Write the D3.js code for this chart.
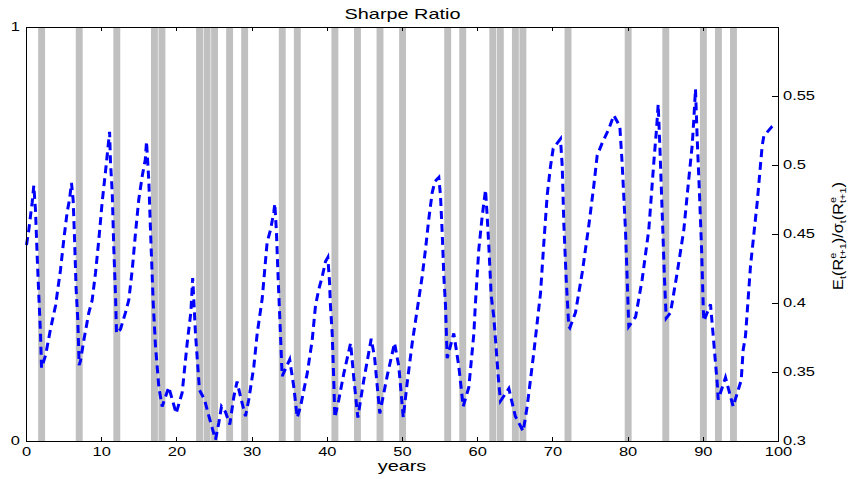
<!DOCTYPE html>
<meta charset="utf-8">
<style>
body { margin: 0; background: #fff; }
svg text { font-family: "Liberation Sans", Arial, Helvetica, sans-serif; fill: #000; }
.axis path, .axis line { stroke: #000; stroke-width: 1; shape-rendering: crispEdges; }
</style>

<svg width="853" height="479"></svg>

<script src="https://cdn.jsdelivr.net/npm/d3@7"></script>
<script>
// years with a recession (grey bars, one year wide)
var recessionYears = [2, 7, 12, 17, 18, 23, 24, 25, 27, 29, 34, 36, 41, 44, 47, 50,
                      56, 58, 62, 63, 65, 66, 72, 80, 85, 90, 92, 94];

// conditional Sharpe ratio
var years = [0, 0.31, 0.53, 0.76, 0.97, 1.2, 1.42, 1.64, 1.86, 2, 2.53, 3.19, 3.86, 4.52, 4.96, 5.41, 5.72, 5.98,
  6.2, 6.38, 6.6, 6.82, 7, 7.18, 7.62, 8.29, 8.73, 9.18, 9.62, 10.06, 10.5, 11.05, 11.17, 11.4, 11.6, 11.84, 11.97,
  12.5, 13.16, 13.6, 14.06, 14.5, 14.93, 15.39, 15.8, 15.96, 16.27, 16.5, 16.72, 16.85, 17.15, 17.6, 18.04,
  18.92, 19.9, 20.7, 21.37, 21.85, 22.1, 22.47, 23, 23.67, 24.25, 25.13, 25.57, 25.93, 26.46, 27.03, 27.57, 28,
  28.55, 29.12, 29.56, 30.23, 30.68, 31.34, 32, 32.45, 32.89, 33.02, 33.24, 33.42, 33.6, 34, 35, 35.55, 36,
  36.44, 37.33, 37.99, 38.43, 38.87, 39.32, 39.76, 40.07, 40.3, 40.4, 40.65, 40.87, 41, 41.53, 42.2, 43.1, 43.5,
  44.06, 44.85, 45.84, 46.28, 46.98, 47.96, 48.94, 49.51, 50.1, 50.62, 51.29, 51.95, 52.61, 53.06, 53.5, 53.95,
  54.3, 54.83, 55.05, 55.28, 55.5, 55.72, 55.94, 56.82, 57.49, 58.07, 58.82, 59.49, 59.7, 60.15, 60.6, 61.04,
  61.26, 61.48, 61.8, 62.14, 62.8, 63.03, 64.14, 65, 66.05, 66.58, 67.46, 68.35, 68.8, 69.24, 69.68, 70.04,
  71.01, 71.24, 71.45, 71.77, 72.11, 72.25, 73, 73.9, 74.77, 75.44, 75.89, 76.56, 77.43, 78.1, 78.9, 79.2,
  79.65, 79.88, 80.09, 81, 81.87, 82.75, 83.42, 83.78, 84, 84.22, 84.53, 84.84, 85.07, 85.64, 86.53, 87.41,
  88.07, 88.52, 88.74, 88.96, 89.19, 89.5, 89.76, 89.99, 90.07, 90.96, 91.4, 91.85, 91.98, 92.95, 93.97,
  95.04, 95.3, 95.61, 96.28, 97.17, 97.83, 98.05, 99.16, 99.7];
var sharpe = [0.442, 0.453, 0.463, 0.473, 0.485, 0.467, 0.434, 0.405, 0.378, 0.353, 0.362, 0.381, 0.398, 0.424, 0.446, 0.466, 0.475, 0.487,
  0.475, 0.448, 0.41, 0.388, 0.355, 0.358, 0.373, 0.393, 0.402, 0.422, 0.446, 0.473, 0.495, 0.524, 0.502, 0.48, 0.441, 0.405, 0.378,
  0.381, 0.393, 0.402, 0.424, 0.451, 0.475, 0.492, 0.504, 0.517, 0.488, 0.451, 0.419, 0.4, 0.369, 0.339, 0.325,
  0.339, 0.32, 0.335, 0.371, 0.393, 0.418, 0.378, 0.337, 0.33, 0.318, 0.301, 0.313, 0.325, 0.321, 0.312, 0.332, 0.343,
  0.33, 0.318, 0.33, 0.354, 0.378, 0.403, 0.444, 0.453, 0.466, 0.472, 0.451, 0.424, 0.4, 0.347, 0.359, 0.339, 0.317,
  0.325, 0.349, 0.373, 0.398, 0.41, 0.419, 0.43, 0.433, 0.415, 0.4, 0.378, 0.342, 0.317, 0.33, 0.349, 0.371, 0.347,
  0.317, 0.344, 0.374, 0.361, 0.32, 0.347, 0.371, 0.354, 0.317, 0.342, 0.371, 0.395, 0.419, 0.439, 0.461, 0.48,
  0.488, 0.491, 0.478, 0.451, 0.419, 0.398, 0.36, 0.378, 0.354, 0.325, 0.339, 0.378, 0.4, 0.439, 0.463, 0.482,
  0.463, 0.441, 0.405, 0.39, 0.342, 0.329, 0.338, 0.318, 0.307, 0.325, 0.364, 0.407, 0.444, 0.478, 0.499, 0.512,
  0.519, 0.499, 0.458, 0.417, 0.383, 0.382, 0.393, 0.422, 0.456, 0.485, 0.507, 0.516, 0.526, 0.536, 0.528, 0.502,
  0.453, 0.417, 0.383, 0.39, 0.417, 0.453, 0.502, 0.526, 0.544, 0.514, 0.466, 0.417, 0.389, 0.393, 0.422, 0.453,
  0.49, 0.514, 0.533, 0.555, 0.519, 0.478, 0.441, 0.398, 0.387, 0.399, 0.371, 0.342, 0.33, 0.346, 0.325,
  0.344, 0.366, 0.376, 0.427, 0.473, 0.514, 0.521, 0.528, 0.53];

var xTicks = [0, 10, 20, 30, 40, 50, 60, 70, 80, 90, 100];
var leftTicks = [0, 1];
var rightTicks = [0.3, 0.35, 0.4, 0.45, 0.5, 0.55];

var svg = d3.select("svg");
var sx = 1.37; // text in the figure is stretched horizontally

var x = d3.scaleLinear().domain([0, 100]).range([26, 778]);
var yL = d3.scaleLinear().domain([0, 1]).range([441, 27]);
var yR = d3.scaleLinear().domain([0.3, 0.6]).range([441, 27]);

function stretch(sel) {
  sel.each(function() {
    var t = d3.select(this);
    var tx = +t.attr("x") || 0;
    t.attr("x", tx / sx).attr("transform", "scale(" + sx + ",1)");
  });
}

// recession bars
svg.append("g").selectAll("rect")
  .data(recessionYears)
  .enter().append("rect")
    .attr("x", function(d) { return x(d - 0.45) + 0.5; })
    .attr("width", function(d) { return x(d + 0.47) - x(d - 0.45); })
    .attr("y", yL(1))
    .attr("height", yL(0) - yL(1))
    .attr("fill", "#c0c0c0");

// sharpe ratio line
var line = d3.line()
  .x(function(d, i) { return x(years[i]) + 0.5; })
  .y(function(d) { return yR(d); });

svg.append("path")
  .datum(sharpe)
  .attr("d", line)
  .attr("fill", "none")
  .attr("stroke", "#0000ff")
  .attr("stroke-width", 3)
  .attr("stroke-dasharray", "8,5");

// axes
var gx = svg.append("g").attr("class", "axis")
  .attr("transform", "translate(0," + yL(0) + ")")
  .call(d3.axisBottom(x).tickValues(xTicks).tickSizeInner(-4).tickSizeOuter(0).tickPadding(6));
gx.attr("font-size", 12).attr("font-family", null);
stretch(gx.selectAll("text"));

svg.append("g").attr("class", "axis")
  .attr("transform", "translate(0," + yL(1) + ")")
  .call(d3.axisTop(x).tickValues(xTicks).tickSizeInner(-4).tickSizeOuter(0).tickFormat(""));

var gl = svg.append("g").attr("class", "axis")
  .attr("transform", "translate(" + x(0) + ",0)")
  .call(d3.axisLeft(yL).tickValues(leftTicks).tickSizeInner(0).tickSizeOuter(0).tickPadding(6)
    .tickFormat(function(d) { return String(d); }));
gl.attr("font-size", 12).attr("font-family", null);
stretch(gl.selectAll("text"));

var gr = svg.append("g").attr("class", "axis")
  .attr("transform", "translate(" + x(100) + ",0)")
  .call(d3.axisRight(yR).tickValues(rightTicks).tickSizeInner(-6).tickSizeOuter(0).tickPadding(5)
    .tickFormat(function(d) { return String(d); }));
gr.attr("font-size", 12).attr("font-family", null);
stretch(gr.selectAll("text"));

// titles
svg.append("text")
  .attr("text-anchor", "middle")
  .attr("font-size", 14.5)
  .attr("transform", "translate(402.5,18.5) scale(" + sx + ",1)")
  .text("Sharpe Ratio");

svg.append("text")
  .attr("text-anchor", "middle")
  .attr("font-size", 14.5)
  .attr("transform", "translate(402,471) scale(" + sx + ",1)")
  .text("years");

// right axis label E_t(R^e_{t+1})/σ_t(R^e_{t+1})
var lab = svg.append("text")
  .attr("text-anchor", "middle")
  .attr("font-size", 12);
var parts = [
  ["E", 0, 0, 12], ["t", 3, 0, 8], ["(", -3, 0, 12], ["R", 0, 0, 12], ["e", -6, 0, 8], ["t+1", 9, -4.4, 8], [")", -3, 0, 12],
  ["/", 0, 0, 12], ["\u03c3", 0, 0, 12], ["t", 3, 0, 8], ["(", -3, 0, 12], ["R", 0, 0, 12], ["e", -6, 0, 8], ["t+1", 9, -4.4, 8], [")", -3, 0, 12]
];
parts.forEach(function(p) {
  lab.append("tspan").attr("dy", p[1]).attr("dx", p[2]).attr("font-size", p[3]).text(p[0]);
});
var w = lab.node().getBBox().width;
lab.attr("transform", "translate(843,236) rotate(-90) scale(" + (108 / w) + ",1.15)");
</script>
